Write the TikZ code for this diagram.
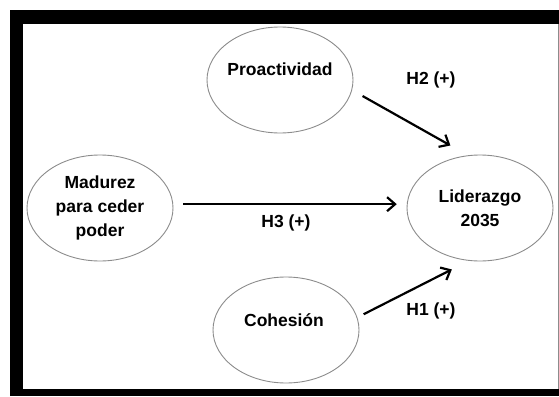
\documentclass[tikz,border=0pt]{standalone}
\usepackage{fontspec}
\setmainfont{Liberation Sans}
\usetikzlibrary{arrows.meta,shapes.geometric}

\begin{document}
\begin{tikzpicture}[x=1pt, y=-1pt,
    var/.style={ellipse, draw=black!45, line width=0.9pt, minimum width=146pt, minimum height=106pt, inner sep=0pt},
    txt/.style={font=\bfseries\fontsize{17.5}{24}\selectfont, align=center, text=black},
    hyp/.style={line width=2.2pt, -{Straight Barb[length=8pt, width=14pt]}}]
                \useasboundingbox (0, 0) rectangle (559, 396);

                % Frame
                \fill[black] (10, 10) rectangle (559, 396);
                \fill[white] (23, 24) rectangle (559, 389);
                \draw[black!45, line width=1pt] (558, 24) -- (558, 389);

                % Nodes
                \node[var] (pro) at (280, 80) {};                              % Predictor
                \node[txt] (protxt) at (280, 69) {Proactividad};
                \node[var, txt] (mad) at (100, 208) {Madurez\\para ceder\\poder}; % Predictor
                \node[var, txt] (lid) at (480, 208) {Liderazgo\\2035};         % Outcome
                \node[var] (coh) at (286, 330) {};                             % Predictor
                \node[txt] (cohtxt) at (284, 320) {Cohesi\'on};

                % Hypotheses
                \draw[hyp, shorten <=12pt, shorten >=20pt] (pro.-8) -- (lid.103);
                \draw[hyp, shorten <=10pt, shorten >=10pt] (mad.3) -- (lid.177);
                \draw[hyp, shorten <=7pt, shorten >=19pt] (coh.10) -- (lid.258);

                % Labels
                \node[txt] (h2) at (431, 80) {H2 (+)};
                \node[txt] (h3) at (286, 223) {H3 (+)};
                \node[txt] (h1) at (431, 311) {H1 (+)};
            \end{tikzpicture}
\end{document}
